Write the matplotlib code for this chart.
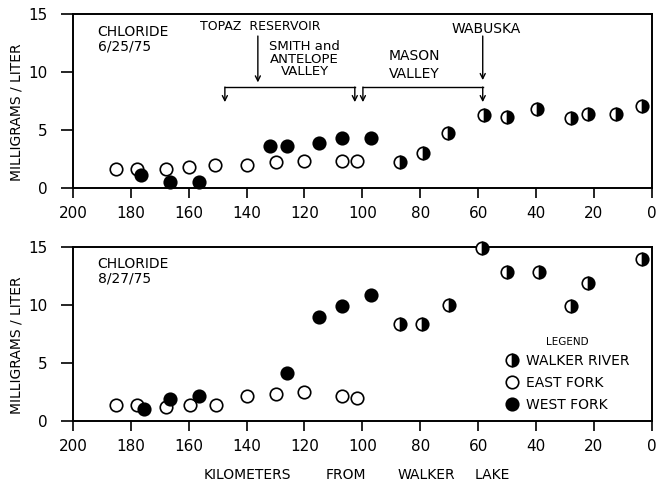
"""Chloride along the Walker River, two sampling dates."""

import matplotlib
matplotlib.use("Agg")
import matplotlib.pyplot as plt
from matplotlib.lines import Line2D

plt.rcParams["font.family"] = "DejaVu Sans"

# 6/25/75
east_km_jun = [185, 178, 168, 160, 151, 140, 130, 120, 107, 102]
east_jun = [1.6, 1.6, 1.6, 1.8, 2.0, 2.0, 2.2, 2.3, 2.3, 2.3]
west_km_jun = [176.5, 166.5, 156.5, 132, 126, 115, 107, 97]
west_jun = [1.1, 0.5, 0.5, 3.6, 3.6, 3.9, 4.3, 4.3]
walker_km_jun = [87, 79, 70.5, 58, 50, 39.5, 28, 22, 12.5, 3.5]
walker_jun = [2.2, 3.0, 4.7, 6.3, 6.1, 6.8, 6.0, 6.4, 6.4, 7.1]

# 8/27/75
east_km_aug = [185, 178, 168, 159.5, 150.5, 140, 130, 120, 107, 102]
east_aug = [1.35, 1.35, 1.2, 1.35, 1.35, 2.1, 2.3, 2.45, 2.1, 1.95]
west_km_aug = [175.5, 166.5, 156.5, 126, 115, 107, 97]
west_aug = [1.0, 1.9, 2.1, 4.15, 9.0, 9.9, 10.9]
walker_km_aug = [87, 79.5, 70, 58.5, 50, 39, 28, 22, 3.3]
walker_aug = [8.4, 8.4, 10.0, 14.9, 12.9, 12.9, 9.9, 11.9, 14.0]

x_ticks = [200, 180, 160, 140, 120, 100, 80, 60, 40, 20, 0]
y_ticks = [0, 5, 10, 15]

ms = 9
east_style = dict(ls="none", marker="o", ms=ms, mfc="white", mec="black", mew=1.2)
west_style = dict(ls="none", marker="o", ms=ms, mfc="black", mec="black", mew=1.2)
walker_style = dict(ls="none", marker="o", ms=ms, mfc="black", mec="black", mew=1.2,
                    fillstyle="right", markerfacecoloralt="white")

fig = plt.figure(figsize=(6.57, 4.84), dpi=100)
ax1 = fig.add_axes([0.111, 0.6116, 0.881, 0.3595])
ax2 = fig.add_axes([0.111, 0.1308, 0.881, 0.3583])


def setup(ax, label, label_y):
    ax.set_xlim(200, 0)
    ax.set_ylim(0, 15)
    ax.set_xticks(x_ticks)
    ax.set_yticks(y_ticks)
    for s in ax.spines.values():
        s.set_linewidth(1.4)
    ax.tick_params(axis="y", direction="out", length=9, width=1.2, pad=9, labelsize=11)
    ax.tick_params(axis="x", direction="out", length=7, width=1.2, pad=6, labelsize=11)
    ax.set_ylabel("MILLIGRAMS / LITER", fontsize=10)
    ax.yaxis.set_label_coords(-0.085, 0.437)
    ax.text(191.5, label_y, label, fontsize=10, ha="left", va="center",
            linespacing=1.05)


def draw(ax, ekm, ev, wkm, wv, rkm, rv):
    ax.plot(ekm, ev, clip_on=False, zorder=3, **east_style)
    ax.plot(wkm, wv, clip_on=False, zorder=4, **west_style)
    ax.plot(rkm, rv, clip_on=False, zorder=5, **walker_style)


setup(ax1, "CHLORIDE\n6/25/75", 12.8)
setup(ax2, "CHLORIDE\n8/27/75", 12.9)

draw(ax1, east_km_jun, east_jun, west_km_jun, west_jun, walker_km_jun, walker_jun)
draw(ax2, east_km_aug, east_aug, west_km_aug, west_aug, walker_km_aug, walker_aug)

# reach annotations on the upper panel
arrow = dict(arrowstyle="->", lw=1, color="black", shrinkA=0, shrinkB=0,
             mutation_scale=9)


def down_arrow(ax, x, y0, y1):
    ax.annotate("", xy=(x, y1), xytext=(x, y0), arrowprops=arrow)


bar_y, tip_y = 8.7, 7.4
for left, right in [(147.5, 102.6), (99.8, 58.4)]:
    ax1.plot([left, right], [bar_y, bar_y], color="black", lw=1)
    down_arrow(ax1, left, bar_y, tip_y)
    down_arrow(ax1, right, bar_y, tip_y)

down_arrow(ax1, 136.1, 13.1, 9.1)
down_arrow(ax1, 58.4, 13.1, 9.3)

ax1.text(135.4, 13.9, "TOPAZ  RESERVOIR", fontsize=9, ha="center", va="center")
ax1.text(119.9, 11.1, "SMITH and\nANTELOPE\nVALLEY", fontsize=9.5,
         ha="center", va="center", linespacing=0.95)
ax1.text(81.9, 10.6, "MASON\nVALLEY", fontsize=10, ha="center", va="center",
         linespacing=1.3)
ax1.text(57.3, 13.7, "WABUSKA", fontsize=10, ha="center", va="center")

# legend on the lower panel
handles = [Line2D([], [], **walker_style), Line2D([], [], **east_style),
           Line2D([], [], **west_style)]
leg = ax2.legend(handles, ["WALKER RIVER", "EAST FORK", "WEST FORK"],
                 title="LEGEND", title_fontsize=7.5, fontsize=10,
                 frameon=False, loc="upper left",
                 bbox_to_anchor=(0.735, 0.525), borderpad=0,
                 handlelength=1.0, handletextpad=0.5, labelspacing=0.55)

# x axis label, words spread as in the original
for x, word in [(247, "KILOMETERS"), (346, "FROM"), (426, "WALKER"), (492, "LAKE")]:
    fig.text(x / 657, 1 - 475 / 484, word, fontsize=10, ha="center", va="center")

fig.savefig("out.png", dpi=100, facecolor="white")
